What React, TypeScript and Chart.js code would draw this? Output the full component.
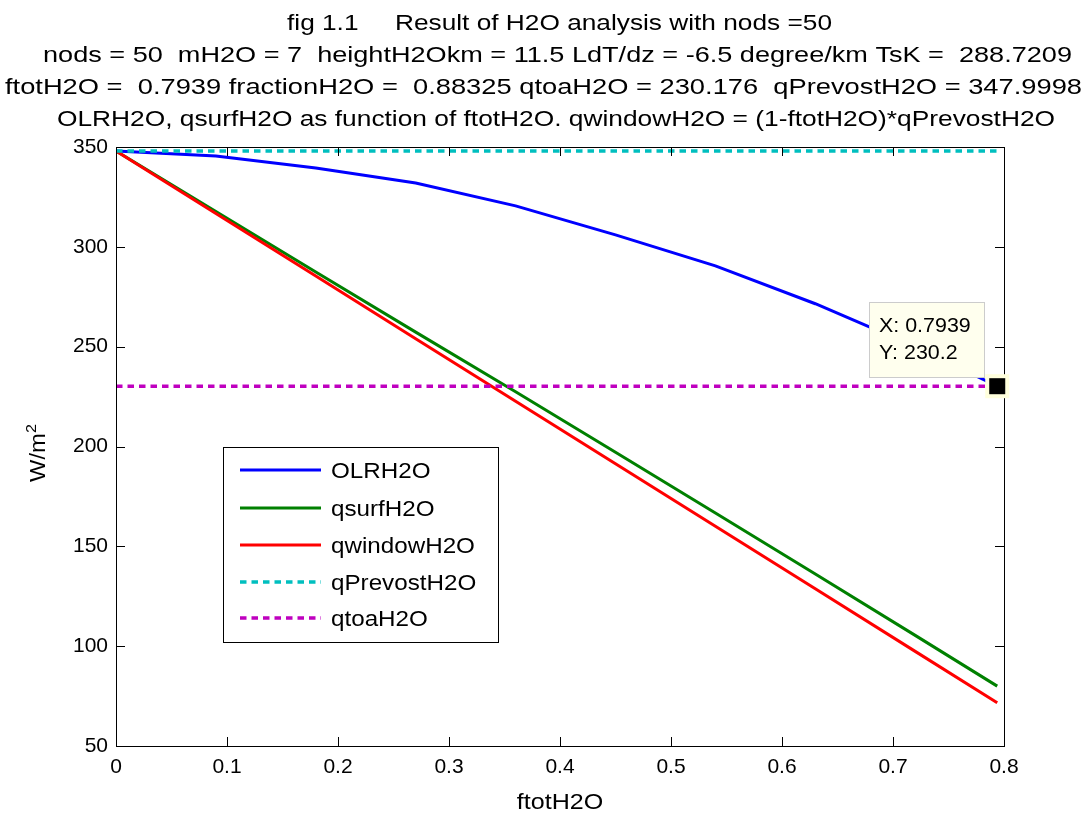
import React, { useEffect, useRef } from 'react';
import { Chart, registerables } from 'chart.js';

Chart.register(...registerables);

// ---------- data ----------
const ftotH2O = [0, 0.09, 0.18, 0.27, 0.36, 0.45, 0.54, 0.63, 0.72, 0.7939];
const olrH2O = [348, 345.5, 339.5, 332, 320.5, 306, 290.5, 271.5, 250, 230.2];
const qsurfH2O = [348, 317.7, 287.4, 257.3, 227.4, 197.1, 166.7, 136.1, 105.4, 80.0];
const qwindowH2O = [348, 316.7, 285.4, 254.0, 222.7, 191.4, 160.1, 128.8, 97.4, 71.7];
const qPrevostH2O = 347.9998;
const qtoaH2O = 230.176;
const refLineX = [0, 0.7939];

const xTicks = [0, 0.1, 0.2, 0.3, 0.4, 0.5, 0.6, 0.7, 0.8];
const yTicks = [50, 100, 150, 200, 250, 300, 350];

const seriesNames = ['OLRH2O', 'qsurfH2O', 'qwindowH2O', 'qPrevostH2O', 'qtoaH2O'];
const seriesColors = ['#0000FF', '#008000', '#FF0000', '#00BFBF', '#BF00BF'];

const titleLines = [
  'fig 1.1     Result of H2O analysis with nods =50',
  'nods = 50  mH2O = 7  heightH2Okm = 11.5 LdT/dz = -6.5 degree/km TsK =  288.7209',
  'ftotH2O =  0.7939 fractionH2O =  0.88325 qtoaH2O = 230.176  qPrevostH2O = 347.9998',
  'OLRH2O, qsurfH2O as function of ftotH2O. qwindowH2O = (1-ftotH2O)*qPrevostH2O',
];
const xAxisTitle = 'ftotH2O';
const yAxisTitle = 'W/m';
const yAxisTitleSup = '2';
const datatipX = 0.7939;
const datatipY = 230.2;

// ---------- layout (styles) ----------
const FONT = '"Liberation Sans", Arial, Helvetica, sans-serif';
const W = 1086;
const H = 814;
const TITLE_EXTENTS = [
  [287, 832],
  [43, 1072],
  [5, 1082],
  [57, 1055],
];
const TITLE_BASELINES = [30, 62, 94, 126];
const TEXT_STRETCH = 1.1;

function drawText(
  ctx: CanvasRenderingContext2D,
  text: string,
  x: number,
  baseline: number,
  size: number,
  sx: number,
  align: CanvasTextAlign
) {
  ctx.save();
  ctx.font = `${size}px ${FONT}`;
  ctx.translate(x, baseline);
  ctx.scale(sx, 1);
  ctx.textAlign = align;
  ctx.textBaseline = 'alphabetic';
  ctx.fillStyle = '#000';
  ctx.fillText(text, 0, 0);
  ctx.restore();
}

const decorPlugin = {
  id: 'decor',
  beforeDraw(chart: any) {
    const ctx = chart.ctx as CanvasRenderingContext2D;
    ctx.save();
    ctx.fillStyle = '#FFFFFF';
    ctx.fillRect(0, 0, chart.width, chart.height);
    ctx.restore();
  },
  afterDatasetsDraw(chart: any) {
    const ctx = chart.ctx as CanvasRenderingContext2D;
    const a = chart.chartArea;
    const xs = chart.scales.x;
    const ys = chart.scales.y;

    // axes box and inward ticks
    ctx.save();
    ctx.strokeStyle = '#000';
    ctx.lineWidth = 1;
    ctx.strokeRect(Math.round(a.left) + 0.5, Math.round(a.top) + 0.5, Math.round(a.right - a.left), Math.round(a.bottom - a.top));
    const TL = 9;
    ctx.beginPath();
    xTicks.forEach((v) => {
      const px = Math.round(xs.getPixelForValue(v)) + 0.5;
      ctx.moveTo(px, a.bottom);
      ctx.lineTo(px, a.bottom - TL);
      ctx.moveTo(px, a.top);
      ctx.lineTo(px, a.top + TL);
    });
    yTicks.forEach((v) => {
      const py = Math.round(ys.getPixelForValue(v)) + 0.5;
      ctx.moveTo(a.left, py);
      ctx.lineTo(a.left + TL, py);
      ctx.moveTo(a.right, py);
      ctx.lineTo(a.right - TL, py);
    });
    ctx.stroke();
    ctx.restore();

    // title lines
    titleLines.forEach((t, i) => {
      ctx.save();
      ctx.font = `22px ${FONT}`;
      const w = ctx.measureText(t).width;
      ctx.restore();
      const [l, r] = TITLE_EXTENTS[i];
      drawText(ctx, t, l, TITLE_BASELINES[i], 22, (r - l) / w, 'left');
    });

    // x axis title
    drawText(ctx, xAxisTitle, (a.left + a.right) / 2, 809, 22, 1.14, 'center');

    // y axis title (rotated, with superscript)
    ctx.save();
    ctx.font = `22px ${FONT}`;
    const mainW = ctx.measureText(yAxisTitle).width * 1.08;
    ctx.font = `15px ${FONT}`;
    const supW = ctx.measureText(yAxisTitleSup).width * 1.08;
    ctx.translate(45, 453);
    ctx.rotate(-Math.PI / 2);
    const start = -(mainW + supW) / 2;
    drawText(ctx, yAxisTitle, start, 0, 22, 1.08, 'left');
    drawText(ctx, yAxisTitleSup, start + mainW, -9, 15, 1.08, 'left');
    ctx.restore();

    // legend
    const LX0 = 223, LY0 = 447, LX1 = 498, LY1 = 642;
    ctx.save();
    ctx.fillStyle = '#FFFFFF';
    ctx.fillRect(LX0, LY0, LX1 - LX0, LY1 - LY0);
    ctx.strokeStyle = '#000';
    ctx.lineWidth = 1;
    ctx.strokeRect(LX0 + 0.5, LY0 + 0.5, LX1 - LX0, LY1 - LY0);
    const rows = [470, 508, 545, 582, 618];
    chart.data.datasets.forEach((ds: any, i: number) => {
      const cy = rows[i];
      ctx.save();
      ctx.strokeStyle = ds.borderColor;
      ctx.lineWidth = ds.borderWidth;
      ctx.setLineDash(ds.borderDash || []);
      ctx.beginPath();
      ctx.moveTo(240, cy);
      ctx.lineTo(321, cy);
      ctx.stroke();
      ctx.restore();
      drawText(ctx, ds.label, 331, cy + 8, 22, TEXT_STRETCH, 'left');
    });
    ctx.restore();

    // datatip
    const px = xs.getPixelForValue(datatipX);
    const py = ys.getPixelForValue(datatipY);
    ctx.save();
    ctx.fillStyle = '#FFFFEE';
    ctx.fillRect(869, 302, 115, 75);
    ctx.strokeStyle = '#CCCCCC';
    ctx.lineWidth = 1;
    ctx.strokeRect(869.5, 302.5, 115, 75);
    drawText(ctx, `X: ${datatipX}`, 879, 332, 21, 1.02, 'left');
    drawText(ctx, `Y: ${datatipY}`, 879, 359, 21, 1.02, 'left');
    ctx.fillStyle = '#FFFFDD';
    ctx.fillRect(px - 12, py - 12, 24, 24);
    ctx.fillStyle = '#000';
    ctx.fillRect(px - 8, py - 8, 16, 16);
    ctx.restore();
  },
};

export default function App() {
  const ref = useRef<HTMLCanvasElement | null>(null);

  useEffect(() => {
    if (!ref.current) return;
    const pts = (ys: number[]) => ftotH2O.map((x, i) => ({ x, y: ys[i] }));
    const flat = (v: number) => refLineX.map((x) => ({ x, y: v }));
    const data = [pts(olrH2O), pts(qsurfH2O), pts(qwindowH2O), flat(qPrevostH2O), flat(qtoaH2O)];
    const dashes = [[], [], [], [6.5, 5], [6.5, 5]];
    const widths = [3, 3, 3, 3.5, 3.5];

    const chart = new Chart(ref.current, {
      type: 'line',
      data: {
        datasets: data.map((d, i) => ({
          label: seriesNames[i],
          data: d,
          borderColor: seriesColors[i],
          backgroundColor: seriesColors[i],
          borderWidth: widths[i],
          borderDash: dashes[i],
          pointRadius: 0,
          tension: 0,
          fill: false,
          order: 5 - i,
        })),
      },
      options: {
        responsive: false,
        animation: false,
        devicePixelRatio: 1,
        layout: { padding: { top: 147, right: W - 1004, left: 0, bottom: 0 } },
        plugins: {
          legend: { display: false },
          title: { display: false },
          tooltip: { enabled: false },
        },
        scales: {
          x: {
            type: 'linear',
            min: 0,
            max: 0.8,
            grid: { display: false, drawTicks: false },
            border: { display: false },
            afterBuildTicks: (s: any) => {
              s.ticks = xTicks.map((v) => ({ value: v }));
            },
            afterFit: (s: any) => {
              s.height = H - 746;
            },
            ticks: {
              padding: 9,
              color: '#000',
              font: { family: FONT, size: 21 },
              maxRotation: 0,
              autoSkip: false,
              callback: (v: any) => String(v),
            },
          },
          y: {
            type: 'linear',
            min: 50,
            max: 350,
            grid: { display: false, drawTicks: false },
            border: { display: false },
            afterBuildTicks: (s: any) => {
              s.ticks = yTicks.map((v) => ({ value: v }));
            },
            afterFit: (s: any) => {
              s.width = 116;
            },
            ticks: {
              padding: 8,
              color: '#000',
              font: { family: FONT, size: 21 },
              autoSkip: false,
              callback: (v: any) => String(v),
            },
          },
        },
      },
      plugins: [decorPlugin],
    } as any);
    return () => chart.destroy();
  }, []);

  return (
    <div style={{ position: 'absolute', left: 0, top: 0, width: W, height: H, background: '#fff' }}>
      <canvas ref={ref} width={W} height={H} style={{ width: W, height: H, display: 'block' }} />
    </div>
  );
}
